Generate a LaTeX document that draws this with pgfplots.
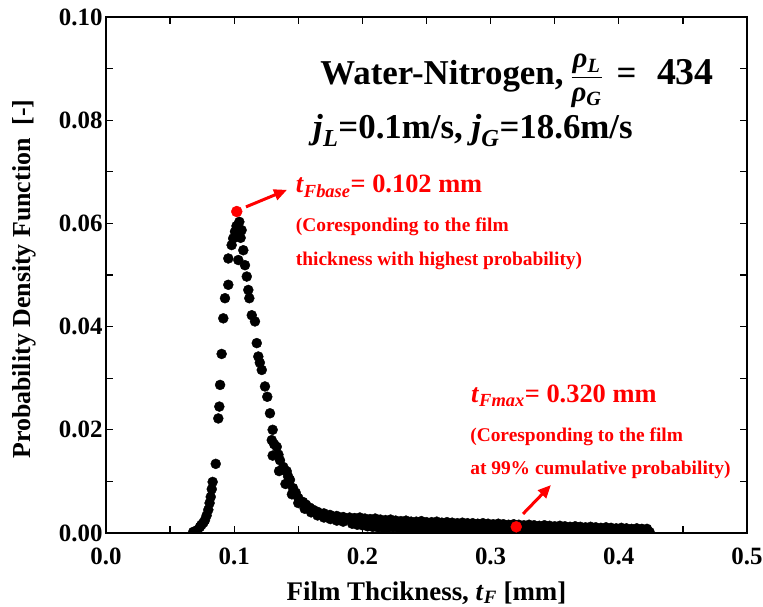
\documentclass[border=0pt]{standalone}
\usepackage{fontspec}
\setmainfont{Liberation Serif}
\usepackage{amsmath}
\usepackage{pgfplots}
\pgfplotsset{compat=1.18}
\usepackage{pgfplotstable}
\usetikzlibrary{arrows.meta,calc}

% PDF of the liquid film thickness: rising edge, peak and fast decay
\pgfplotstableread{
x y
0.0680 0.0002
0.0700 0.0004
0.0715 0.0006
0.0733 0.0012
0.0745 0.0016
0.0760 0.0020
0.0772 0.0025
0.0785 0.0034
0.0798 0.0045
0.0808 0.0058
0.0817 0.0070
0.0825 0.0085
0.0832 0.0099
0.0856 0.0134
0.0876 0.0222
0.0884 0.0245
0.0890 0.0287
0.0902 0.0347
0.0915 0.0416
0.0928 0.0455
0.0954 0.0481
0.0954 0.0532
0.0980 0.0558
0.0992 0.0571
0.1006 0.0584
0.1018 0.0595
0.1040 0.0603
0.1032 0.0529
0.1058 0.0587
0.1050 0.0572
0.1071 0.0548
0.1084 0.0519
0.1098 0.0497
0.1110 0.0471
0.1118 0.0455
0.1137 0.0422
0.1162 0.0410
0.1176 0.0368
0.1188 0.0342
0.1200 0.0330
0.1215 0.0316
0.1240 0.0284
0.1258 0.0264
0.1279 0.0232
0.1293 0.0180
0.1300 0.0200
0.1312 0.0172
0.1332 0.0167
0.1345 0.0152
0.1357 0.0141
0.1383 0.0128
0.1409 0.0120
0.1420 0.0110
0.1435 0.0103
0.1459 0.0087
0.1480 0.0078
0.1500 0.0068
0.1537 0.0060
0.1560 0.0055
0.1590 0.0049
0.1615 0.0045
0.1650 0.0041
0.1700 0.0038
0.1747 0.0035
0.1800 0.0033
0.1850 0.0031
0.1300 0.0150
0.1350 0.0120
0.1400 0.0095
0.1450 0.0075
0.1500 0.0058
0.1550 0.0047
0.1600 0.0040
0.1650 0.0034
0.1700 0.0030
0.1750 0.0027
0.1800 0.0024
0.1850 0.0022
}\peakdata

% long tail of the distribution (upper and lower scatter)
\pgfplotstableread{
x y
0.190 0.0030
0.194 0.0029
0.198 0.0030
0.202 0.0028
0.206 0.0027
0.210 0.0028
0.214 0.0026
0.218 0.0025
0.222 0.0026
0.226 0.0024
0.230 0.0023
0.234 0.0024
0.238 0.0022
0.242 0.0022
0.246 0.0023
0.250 0.0021
0.254 0.0021
0.258 0.0022
0.262 0.0020
0.266 0.0021
0.270 0.0020
0.274 0.0019
0.278 0.0020
0.282 0.0019
0.286 0.0019
0.290 0.0018
0.294 0.0019
0.298 0.0018
0.302 0.0017
0.306 0.0018
0.310 0.0017
0.314 0.0016
0.318 0.0017
0.322 0.0016
0.326 0.0015
0.330 0.0016
0.334 0.0015
0.338 0.0014
0.342 0.0015
0.346 0.0014
0.350 0.0013
0.354 0.0014
0.358 0.0013
0.362 0.0012
0.366 0.0013
0.370 0.0012
0.374 0.0011
0.378 0.0012
0.382 0.0011
0.386 0.0010
0.390 0.0011
0.394 0.0010
0.398 0.0009
0.402 0.0010
0.406 0.0009
0.410 0.0008
0.414 0.0009
0.418 0.0008
0.422 0.0008
0.192 0.0018
0.196 0.0016
0.200 0.0015
0.204 0.0013
0.208 0.0012
0.212 0.0011
0.216 0.0010
0.220 0.0010
0.224 0.0011
0.228 0.0010
0.232 0.0009
0.236 0.0010
0.240 0.0009
0.244 0.0010
0.248 0.0009
0.252 0.0008
0.256 0.0009
0.260 0.0008
0.264 0.0009
0.268 0.0008
0.272 0.0008
0.276 0.0009
0.280 0.0008
0.284 0.0007
0.288 0.0008
0.292 0.0007
0.296 0.0008
0.300 0.0007
0.304 0.0007
0.308 0.0008
0.312 0.0007
0.316 0.0006
0.320 0.0007
0.324 0.0006
0.328 0.0007
0.332 0.0006
0.336 0.0006
0.340 0.0005
0.344 0.0006
0.348 0.0005
0.352 0.0006
0.356 0.0005
0.360 0.0005
0.364 0.0004
0.368 0.0005
0.372 0.0004
0.376 0.0005
0.380 0.0004
0.384 0.0004
0.388 0.0003
0.392 0.0004
0.396 0.0003
0.400 0.0004
0.404 0.0003
0.408 0.0003
0.412 0.0002
0.416 0.0003
0.420 0.0002
0.424 0.0002
}\taildata

% characteristic thicknesses: base film (peak) and 99 % cumulative value
\pgfplotstableread{
x y
0.102 0.0623
0.320 0.0012
}\keypoints

\begin{document}
\begin{tikzpicture}
\begin{axis}[
  name=ax,
  scale only axis,
  width=641bp, height=516bp,
  xmin=0, xmax=0.5, ymin=0, ymax=0.1,
  xtick={0,0.1,0.2,0.3,0.4,0.5},
  ytick={0,0.02,0.04,0.06,0.08,0.1},
  minor x tick num=1, minor y tick num=1,
  tick align=inside,
  major tick length=7bp, minor tick length=7bp,
  every tick/.style={black, line width=1.2bp},
  axis line style={line width=1.3bp},
  scaled ticks=false,
  /pgf/number format/assume math mode=true,
  ticklabel style={font=\fontsize{25}{28}\selectfont\bfseries},
  xticklabel style={yshift=-11bp, /pgf/number format/.cd, fixed, fixed zerofill, precision=1},
  yticklabel style={/pgf/number format/.cd, fixed, fixed zerofill, precision=2},
  xlabel={Film Thcikness, \textit{t}\textsubscript{\textit{F}} [mm]},
  xlabel style={font=\fontsize{27}{32}\selectfont\bfseries, at={(rel axis cs:0.5,-0.130)}, anchor=base},
  ylabel={Probability Density Function\ \ [-]},
  ylabel style={font=\fontsize{26}{32}\selectfont\bfseries, at={(rel axis cs:-0.128,0.492)}, anchor=center},
  clip marker paths=true,
]
\addplot[only marks, mark=*, mark size=5bp, black] table[x=x,y=y] {\peakdata};
\addplot[only marks, mark=*, mark size=5bp, black] table[x=x,y=y] {\taildata};
\addplot[only marks, mark=*, mark size=5.5bp, red, mark options={fill=red, draw=red}] table[x=x,y=y] {\keypoints};

\draw[red, line width=3bp, -{Triangle[length=13bp,width=11bp]}]
  (axis cs:0.1092,0.0632) -- (axis cs:0.1412,0.0665);
\draw[red, line width=3bp, -{Triangle[length=13bp,width=11bp]}]
  (axis cs:0.3253,0.0037) -- (axis cs:0.3471,0.0093);

\node[anchor=base east, font=\fontsize{35}{40}\selectfont\bfseries, inner sep=0pt]
  at (axis cs:0.4743,0.0870)
  {Water-Nitrogen,$\;\dfrac{\text{\fontsize{29}{30}\selectfont\textit{ρ}\textsubscript{\textit{L}}}}{\text{\fontsize{29}{30}\selectfont\textit{ρ}\textsubscript{\textit{G}}}}\;\mathrel{\text{=}}\;\;\text{\fontsize{38}{40}\selectfont 434}$};
\node[anchor=base west, font=\fontsize{35}{40}\selectfont\bfseries, inner sep=0pt]
  at (axis cs:0.1615,0.0764)
  {\textit{j}\textsubscript{\textit{L}}=0.1m/s, \textit{j}\textsubscript{\textit{G}}=18.6m/s};

\node[anchor=base west, red, font=\fontsize{26.5}{30}\selectfont\bfseries, inner sep=0pt]
  at (axis cs:0.148,0.0659) {\textit{t}\textsubscript{\textit{Fbase}}= 0.102 mm};
\node[anchor=base west, red, font=\fontsize{19.5}{24}\selectfont\bfseries, inner sep=0pt]
  at (axis cs:0.148,0.0585) {(Coresponding to the film};
\node[anchor=base west, red, font=\fontsize{19.5}{24}\selectfont\bfseries, inner sep=0pt]
  at (axis cs:0.148,0.0519) {thickness with highest probability)};

\node[anchor=base west, red, font=\fontsize{26.5}{30}\selectfont\bfseries, inner sep=0pt]
  at (axis cs:0.2847,0.0252) {\textit{t}\textsubscript{\textit{Fmax}}= 0.320 mm};
\node[anchor=base west, red, font=\fontsize{19.5}{24}\selectfont\bfseries, inner sep=0pt]
  at (axis cs:0.2840,0.0178) {(Coresponding to the film};
\node[anchor=base west, red, font=\fontsize{19.5}{24}\selectfont\bfseries, inner sep=0pt]
  at (axis cs:0.2840,0.0114) {at 99\% cumulative probability)};
\end{axis}
\pgfresetboundingbox
\path[use as bounding box] ($(ax.south west)+(-106bp,-74bp)$) rectangle ++(763bp,607bp);
\end{tikzpicture}
\end{document}
